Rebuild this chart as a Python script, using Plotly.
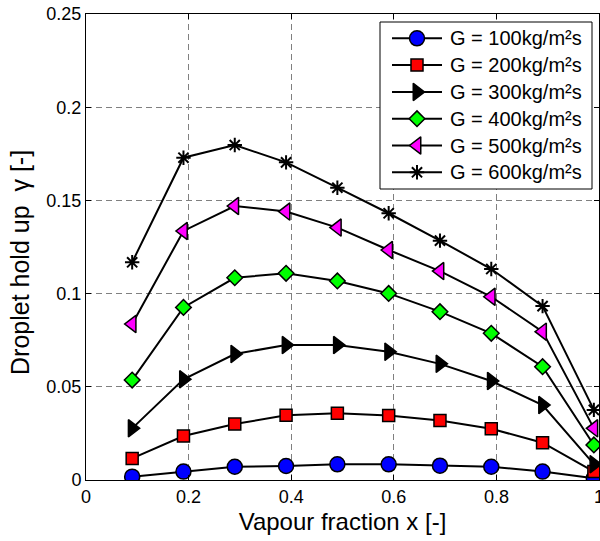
import plotly.graph_objects as go

x_vals = [0.09, 0.19, 0.29, 0.39, 0.49, 0.59, 0.69, 0.79, 0.89, 0.99]

g100 = [0.0018, 0.0045, 0.0071, 0.0075, 0.0084, 0.0084, 0.0077, 0.0071, 0.0045, 0.0010]
g200 = [0.0116, 0.0236, 0.0300, 0.0347, 0.0358, 0.0346, 0.0319, 0.0275, 0.0200, 0.0045]
g300 = [0.0277, 0.0540, 0.0676, 0.0724, 0.0724, 0.0688, 0.0623, 0.0531, 0.0402, 0.0085]
g400 = [0.0536, 0.0926, 0.1085, 0.1109, 0.1068, 0.1001, 0.0903, 0.0787, 0.0608, 0.0188]
g500 = [0.0837, 0.1336, 0.1470, 0.1440, 0.1354, 0.1234, 0.1121, 0.0983, 0.0796, 0.0277]
g600 = [0.1168, 0.1729, 0.1797, 0.1704, 0.1568, 0.1431, 0.1284, 0.1132, 0.0933, 0.0376]

labels = ["G = 100kg/m²s", "G = 200kg/m²s", "G = 300kg/m²s",
          "G = 400kg/m²s", "G = 500kg/m²s", "G = 600kg/m²s"]
series = [g100, g200, g300, g400, g500, g600]
symbols = ["circle", "square", "triangle-right", "diamond", "triangle-left", "asterisk-open"]
fills = ["#0000FF", "#FF0000", "#000000", "#00FF00", "#FF00FF", "#000000"]
sizes = [15, 12, 15, 12, 15, 12]

x_ticks = [0, 0.2, 0.4, 0.6, 0.8, 1]
x_tick_text = ["0", "0.2", "0.4", "0.6", "0.8", "1"]
y_ticks = [0, 0.05, 0.1, 0.15, 0.2, 0.25]
y_tick_text = ["0", "0.05", "0.1", "0.15", "0.2", "0.25"]

x_title = "Vapour fraction x [-]"
y_title = "Droplet hold up  γ [-]"

# ---- layout geometry (pixels) ----
W, H = 600, 541
PL, PR, PT, PB = 86, 599, 14, 480          # plot area edges
LEG_BOX = (380, 592, 22, 189)               # legend box x0, x1, y0, y1
LEG_ROW0, LEG_ROW_STEP = 38.3, 26.8
LEG_LINE_X = (392, 442)
LEG_TEXT_X = 448
YTITLE_X, YTITLE_Y = 20, 263

font_family = "Liberation Sans, Arial, sans-serif"

fig = go.Figure()
for lab, ys, sym, fc, sz in zip(labels, series, symbols, fills, sizes):
    fig.add_trace(go.Scatter(
        x=x_vals, y=ys, mode="lines+markers", name=lab, showlegend=False,
        line=dict(color="black", width=2),
        marker=dict(symbol=sym, size=sz, color=fc,
                    line=dict(color="black", width=2 if sym == "asterisk-open" else 1.5)),
    ))

# ---- legend drawn on a pixel-unit overlay axis ----
bx0, bx1, by0, by1 = LEG_BOX
fig.add_trace(go.Scatter(
    x=[bx0, bx1, bx1, bx0, bx0], y=[by0, by0, by1, by1, by0],
    xaxis="x2", yaxis="y2", mode="lines", fill="toself", fillcolor="white",
    line=dict(color="black", width=1), showlegend=False, hoverinfo="skip",
))
line_x, line_y = [], []
for i in range(len(labels)):
    ry = LEG_ROW0 + LEG_ROW_STEP * i
    line_x += [LEG_LINE_X[0], LEG_LINE_X[1], None]
    line_y += [ry, ry, None]
fig.add_trace(go.Scatter(
    x=line_x, y=line_y, xaxis="x2", yaxis="y2", mode="lines",
    line=dict(color="black", width=2), showlegend=False, hoverinfo="skip",
))
for i, (lab, sym, fc, sz) in enumerate(zip(labels, symbols, fills, sizes)):
    ry = LEG_ROW0 + LEG_ROW_STEP * i
    fig.add_trace(go.Scatter(
        x=[(LEG_LINE_X[0] + LEG_LINE_X[1]) / 2], y=[ry], xaxis="x2", yaxis="y2",
        mode="markers", showlegend=False, hoverinfo="skip", cliponaxis=False,
        marker=dict(symbol=sym, size=sz, color=fc,
                    line=dict(color="black", width=2 if sym == "asterisk-open" else 1.5)),
    ))
    fig.add_annotation(x=LEG_TEXT_X, y=ry, xref="x2", yref="y2", text=lab,
                       showarrow=False, xanchor="left", yanchor="middle",
                       font=dict(size=20, color="black", family=font_family))

# y-axis title (placed as in the reference, slightly below the axis centre)
fig.add_annotation(x=(YTITLE_X - PL) / (PR - PL), y=(PB - YTITLE_Y) / (PB - PT),
                   xref="paper", yref="paper", text=y_title,
                   textangle=-90, showarrow=False, xanchor="center", yanchor="middle",
                   font=dict(size=25, color="black", family=font_family))

axis_common = dict(
    showline=True, linecolor="black", linewidth=1, mirror="ticks",
    ticks="inside", ticklen=5, tickcolor="black",
    showgrid=True, gridcolor="#808080", griddash="6px,4px", gridwidth=1,
    zeroline=False, automargin=False, ticklabeloverflow="allow",
    tickfont=dict(size=18, color="black", family=font_family),
)

fig.update_layout(
    width=W, height=H,
    margin=dict(l=PL, r=W - PR, t=PT, b=H - PB),
    paper_bgcolor="white", plot_bgcolor="white",
    font=dict(family=font_family, color="black"),
    xaxis=dict(range=[0, 1], tickvals=x_ticks, ticktext=x_tick_text,
               title=dict(text=x_title, font=dict(size=24), standoff=7),
               **axis_common),
    yaxis=dict(range=[0, 0.25], tickvals=y_ticks, ticktext=y_tick_text,
               **axis_common),
    xaxis2=dict(overlaying="x", anchor="y2", range=[PL, PR], visible=False,
                fixedrange=True),
    yaxis2=dict(overlaying="y", anchor="x2", range=[PB, PT], visible=False,
                fixedrange=True),
    showlegend=False,
)

fig.write_html("out.html", config={"displayModeBar": False},
               post_script="document.body.style.margin='0px';")
